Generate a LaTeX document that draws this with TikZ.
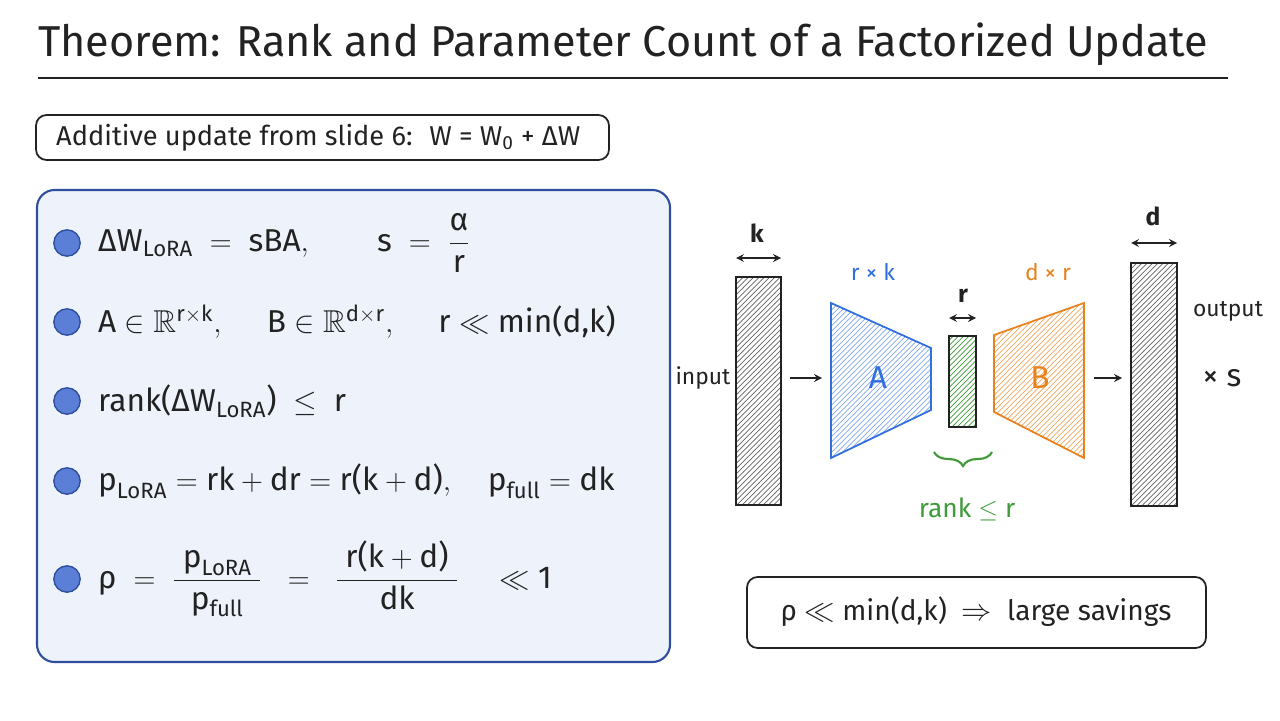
\documentclass[tikz,border=0pt]{standalone}
\usepackage{amsmath,amssymb}
\usepackage{fontspec}
\setmainfont{Fira Sans}
\usetikzlibrary{patterns, decorations.pathreplacing, calc, positioning}
\definecolor{ink}{HTML}{222222}
\definecolor{boxblue}{HTML}{2D4F9E}
\definecolor{fillblue}{HTML}{EEF3FB}
\definecolor{dotblue}{HTML}{5B7FD6}
\definecolor{mblue}{HTML}{2F6FE0}
\definecolor{morange}{HTML}{E8821E}
\definecolor{mgreen}{HTML}{3F9A3A}
\newcommand{\tx}[1]{\text{#1}}
\tikzset{
  plainbox/.style={draw=ink, line width=1pt, rounded corners=6pt},
  bulletdot/.style={circle, draw=boxblue, fill=dotblue, minimum size=15pt, inner sep=0pt, line width=0.8pt},
  formula/.style={anchor=west, font=\fontsize{18}{21}\selectfont, text=ink},
  dimarrow/.style={<->, >=stealth, line width=1pt, draw=ink},
  flowarrow/.style={->, >=stealth, line width=1pt, draw=ink},
  matrixbar/.style={draw=ink, line width=0.9pt, pattern=north east lines, pattern color=ink!70},
  lbl/.style={font=\fontsize{13}{15}\selectfont, text=ink}
}
\begin{document}
\begin{tikzpicture}[x=0.02cm, y=-0.02cm]
  \useasboundingbox (0,0) rectangle (1280,720);

  % title
  \node[anchor=west, font=\fontsize{24.6}{28}\selectfont, text=ink] (title) at (32,44)
    {Theorem: Rank and Parameter Count of a Factorized Update};
  \draw[ink, line width=1.2pt] (38,78) -- (1228,78);

  % recap box
  \draw[plainbox] (36,115) rectangle (609,160);
  \node[anchor=west, font=\fontsize{15.5}{18}\selectfont, text=ink] (recap) at (50,138)
    {Additive update from slide 6: \ W = W\textsubscript{0} + ΔW};

  % theorem box
  \draw[draw=boxblue, fill=fillblue, line width=1.2pt, rounded corners=10pt] (37,190) rectangle (670,662);
  \foreach \yy/\nm in {243/b1, 322/b2, 401/b3, 481/b4, 579/b5}
    \node[bulletdot] (\nm) at (67,\yy) {};
  \node[formula] (f1) at (92,243) {$\tx{ΔW}_{\tx{LoRA}} \;=\; \tx{sBA}, \qquad \tx{s} \;=\; \dfrac{\tx{α}}{\tx{r}}$};
  \node[formula] (f2) at (92,322) {$\tx{A} \in \mathbb{R}^{\tx{r}\times\tx{k}}, \quad\; \tx{B} \in \mathbb{R}^{\tx{d}\times\tx{r}}, \quad\; \tx{r} \ll \tx{min(d,k)}$};
  \node[formula] (f3) at (92,401) {$\tx{rank(ΔW}_{\tx{LoRA}}\tx{)} \;\le\; \tx{r}$};
  \node[formula] (f4) at (92,481) {$\tx{p}_{\tx{LoRA}} = \tx{rk} + \tx{dr} = \tx{r(k} + \tx{d)}, \quad \tx{p}_{\tx{full}} = \tx{dk}$};
  \node[formula] (f5) at (92,579) {$\tx{ρ} \;=\; \dfrac{\;\tx{p}_{\tx{LoRA}}\;}{\tx{p}_{\tx{full}}} \;\;=\;\; \dfrac{\;\tx{r(k} + \tx{d)}\;}{\tx{dk}} \quad \ll \tx{1}$};

  % factorization diagram
  \draw[matrixbar] (736,277) rectangle (781,505);
  \coordinate (inL) at (736,258);
  \coordinate (inR) at (781,258);
  \draw[dimarrow] (inL) -- (inR);
  \node[lbl, font=\fontsize{14}{16}\selectfont\bfseries] (klbl) at (757,233) {k};
  \node[lbl] (input) at (703,378) {input};
  \coordinate (a1s) at (790,378);
  \coordinate (a1e) at (822,378);
  \draw[flowarrow] (a1s) -- (a1e);

  \draw[draw=mblue, line width=1pt, pattern=north east lines, pattern color=mblue!60]
    (831,303) -- (931,348) -- (931,410) -- (831,458) -- cycle;
  \node[font=\fontsize{18}{21}\selectfont, text=mblue] (Alab) at (878,378) {A};
  \node[lbl, text=mblue] (rk) at (873,272) {r × k};

  \draw[draw=ink, line width=1pt, pattern=north east lines, pattern color=mgreen]
    (949,336) rectangle (976,427);
  \coordinate (rL) at (949,318);
  \coordinate (rR) at (976,318);
  \draw[dimarrow] (rL) -- (rR);
  \node[lbl, font=\fontsize{14}{16}\selectfont\bfseries] (rlbl) at (963,296) {r};

  \draw[draw=morange, line width=1pt, pattern=north east lines, pattern color=morange!70]
    (994,335) -- (1084,303) -- (1084,458) -- (994,412) -- cycle;
  \node[font=\fontsize{18}{21}\selectfont, text=morange] (Blab) at (1040,378) {B};
  \node[lbl, text=morange] (dr) at (1048,272) {d × r};

  \coordinate (a2s) at (1094,378);
  \coordinate (a2e) at (1122,378);
  \draw[flowarrow] (a2s) -- (a2e);

  \draw[matrixbar] (1131,263) rectangle (1177,506);
  \coordinate (oL) at (1131,243);
  \coordinate (oR) at (1177,243);
  \draw[dimarrow] (oL) -- (oR);
  \node[lbl, font=\fontsize{14}{16}\selectfont\bfseries] (dlbl) at (1153,216) {d};
  \node[lbl] (output) at (1228,311) {output};
  \node[font=\fontsize{18}{21}\selectfont, text=ink] (times) at (1222,378) {× s};

  % rank brace
  \coordinate (brL) at (934,452);
  \coordinate (brR) at (992,452);
  \draw[mgreen, line width=1.2pt, decorate, decoration={brace, mirror, amplitude=8pt}] (brL) -- (brR);
  \node[lbl, font=\fontsize{15}{17}\selectfont, text=mgreen] (ranklbl) at (967,509) {rank $\le$ r};

  % savings box
  \draw[plainbox] (747,577) rectangle (1206,648);
  \node[font=\fontsize{16}{19}\selectfont, text=ink] (savings) at (976,612)
    {ρ $\ll$ min(d,k) \ $\Rightarrow$ \ large savings};
\end{tikzpicture}
\end{document}
